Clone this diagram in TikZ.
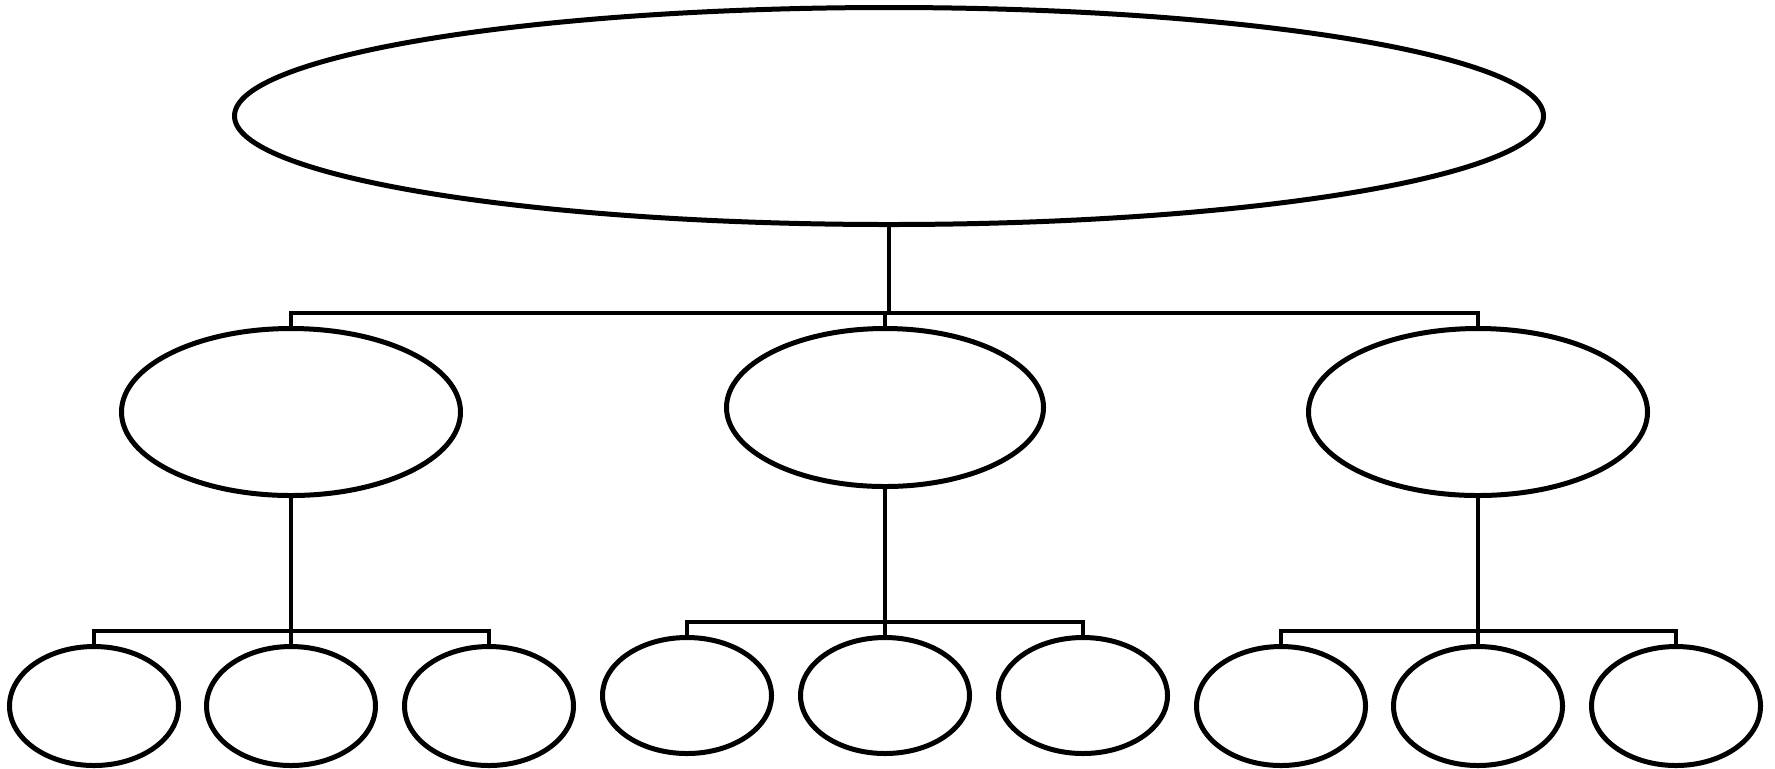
\documentclass[tikz,border=0pt]{standalone}
\usetikzlibrary{shapes.geometric}
\tikzset{bubble/.style={ellipse,draw=black,line width=2.5pt,inner sep=0pt}}
\tikzset{leaf/.style={bubble,minimum width=84.5pt,minimum height=59.5pt}}
\tikzset{link/.style={draw=black,line width=2pt}}

\begin{document}
\begin{tikzpicture}[x=0.5pt,y=-0.5pt]
\useasboundingbox (0,0) rectangle (1775,768);
% top level
\node (root) [bubble,minimum width=654.5pt,minimum height=108.5pt] at (889,116) {};
% second level
\node (ma) [bubble,minimum width=169.5pt,minimum height=83.5pt] at (291,412) {};
\node (mb) [bubble,minimum width=158.5pt,minimum height=79pt] at (885,407.5) {};
\node (mc) [bubble,minimum width=169.5pt,minimum height=83.5pt] at (1478,412) {};
% third level
\node (a1) [leaf] at (94,706) {};
\node (a2) [leaf] at (291,706) {};
\node (a3) [leaf] at (489,706) {};
\node (b1) [leaf,minimum height=58pt] at (687,695.5) {};
\node (b2) [leaf,minimum height=58pt] at (885,695.5) {};
\node (b3) [leaf,minimum height=58pt] at (1083,695.5) {};
\node (c1) [leaf] at (1281,706) {};
\node (c2) [leaf] at (1478,706) {};
\node (c3) [leaf] at (1676,706) {};
%
\coordinate (j0) at (889,313);
\coordinate (ja) at (291,630.5);
\coordinate (jb) at (885,621.5);
\coordinate (jc) at (1478,630.5);
%
\path[link] (root.south) -- (j0);
\path[link] (j0) -| (ma.north);
\path[link] (j0) -| (mb.north);
\path[link] (j0) -| (mc.north);
\path[link] (ma.south) -- (ja);
\path[link] (ja) -| (a1.north);
\path[link] (ja) -| (a2.north);
\path[link] (ja) -| (a3.north);
\path[link] (mb.south) -- (jb);
\path[link] (jb) -| (b1.north);
\path[link] (jb) -| (b2.north);
\path[link] (jb) -| (b3.north);
\path[link] (mc.south) -- (jc);
\path[link] (jc) -| (c1.north);
\path[link] (jc) -| (c2.north);
\path[link] (jc) -| (c3.north);
\end{tikzpicture}
\end{document}
